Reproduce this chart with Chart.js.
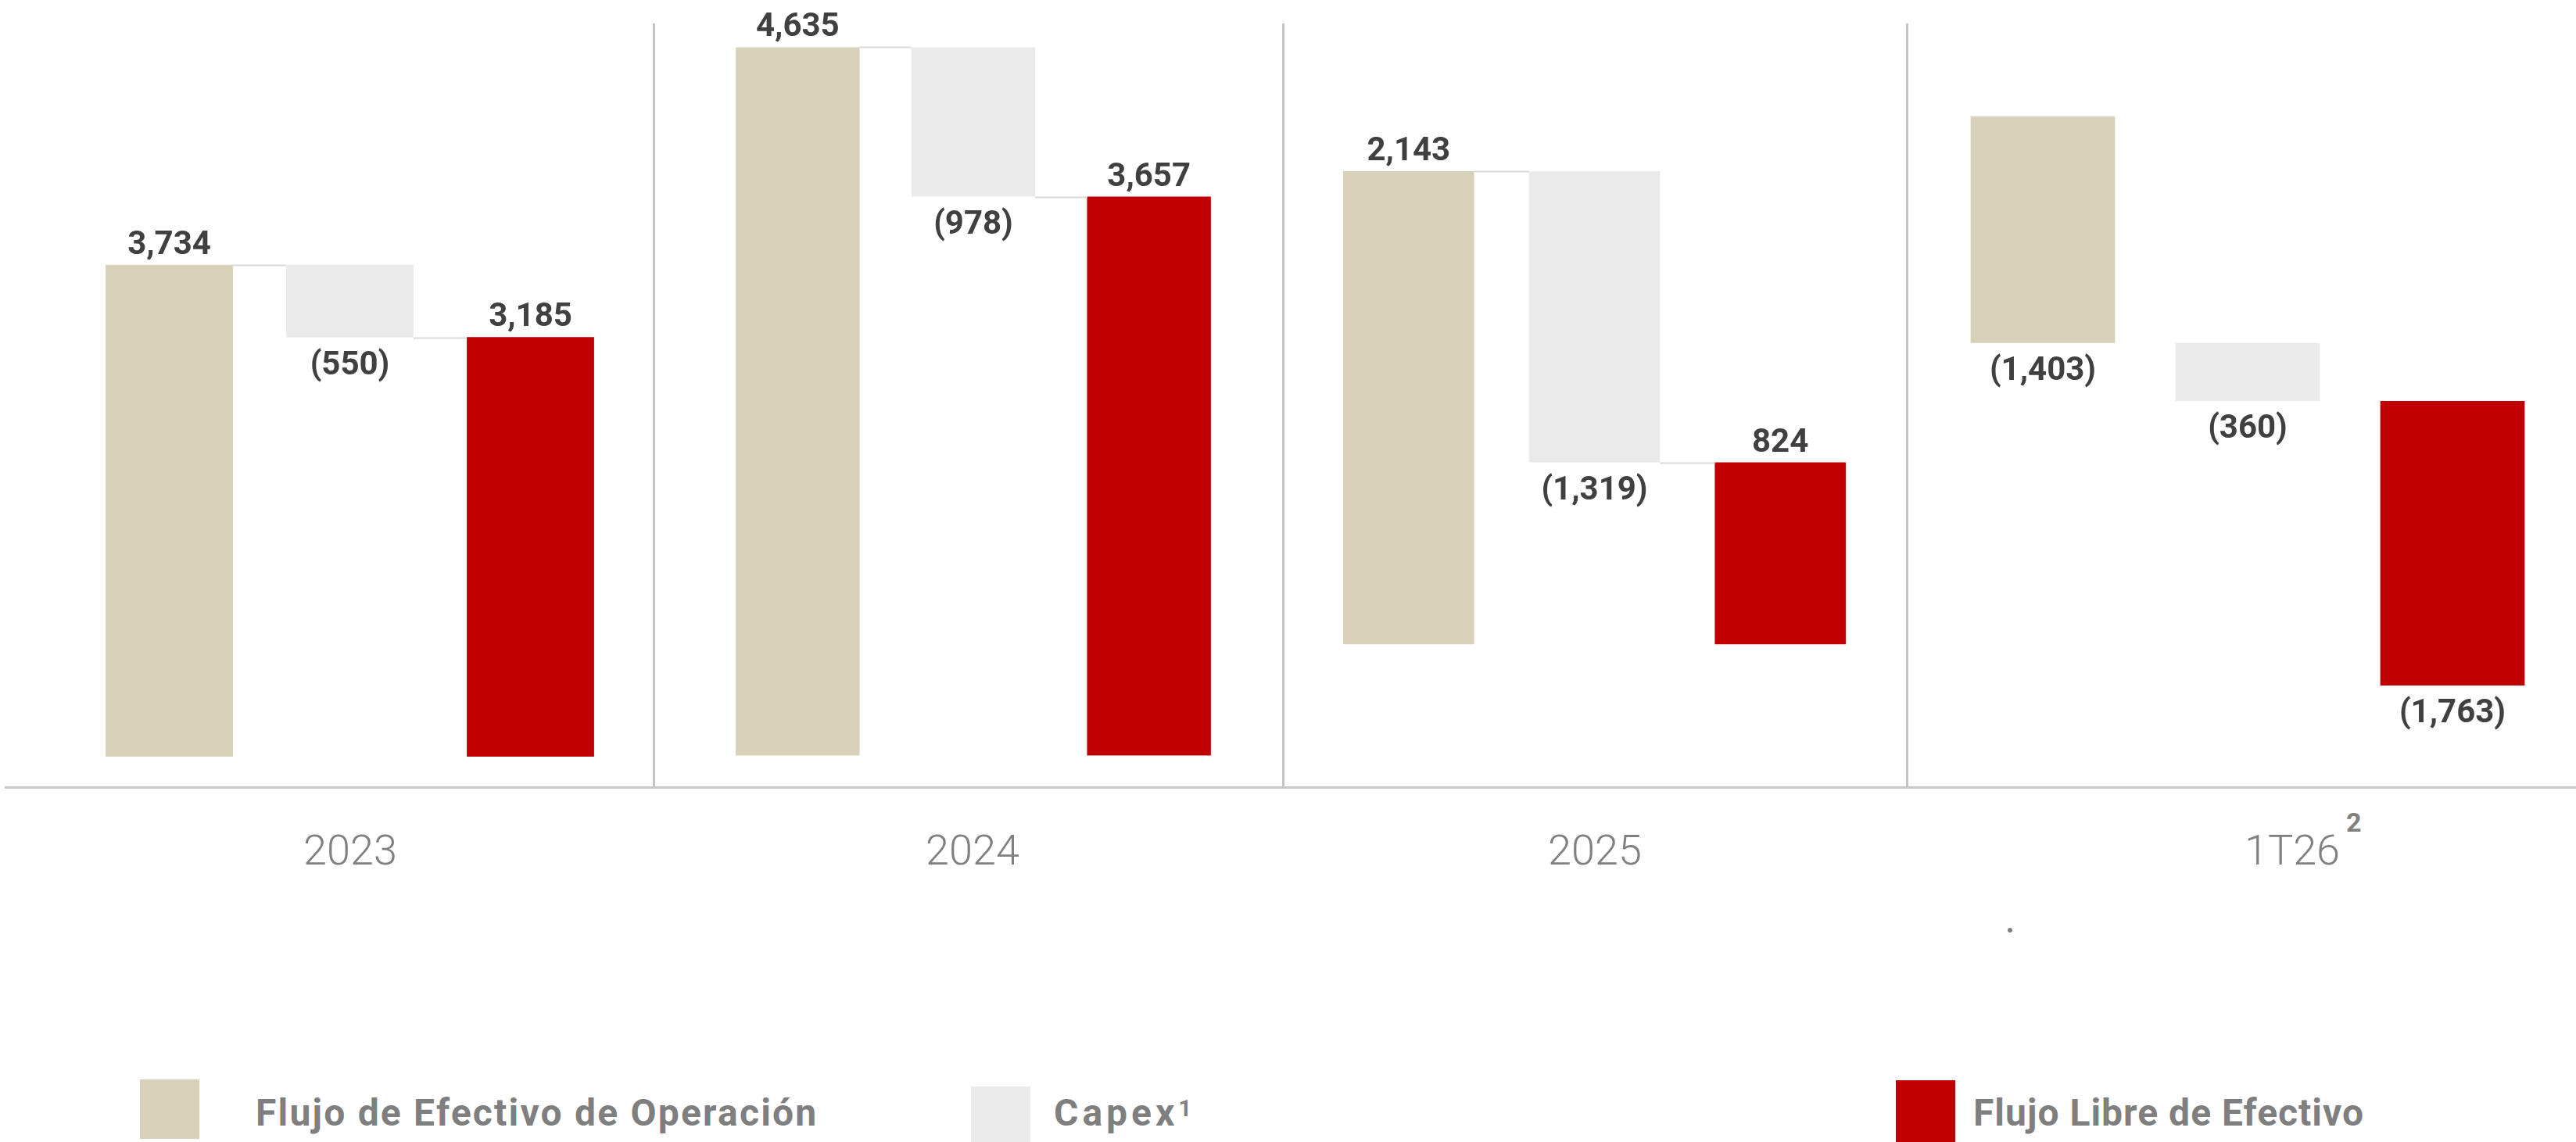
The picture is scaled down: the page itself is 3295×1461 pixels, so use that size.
<!DOCTYPE html>
<html lang="es">
<head>
<meta charset="utf-8">
<script src="https://cdn.jsdelivr.net/npm/chart.js@4/dist/chart.umd.min.js"></script>
<style>
  html, body { margin: 0; padding: 0; background: #fff; }
  #lienzo { position: relative; width: 3295px; height: 1461px; overflow: hidden; font-family: Roboto, sans-serif; }
  .panel { position: absolute; top: 0; height: 1008px; }
  .divisor { position: absolute; top: 30px; width: 3px; height: 978px; background: #c4c4c4; }
  #base { position: absolute; left: 6px; top: 1006px; width: 3289px; height: 3px; background: #c8c8c8; }
  .categoria { position: absolute; top: 1056px; line-height: 64px; font-size: 54px; font-weight: 300; color: #808080; white-space: nowrap; transform: translateX(-50%); }
  .categoria sup { position: absolute; left: calc(100% + 8px); top: -24px; font-size: 34px; font-weight: 700; line-height: 40px; }
  #punto { position: absolute; left: 2568px; top: 1187px; width: 6px; height: 6px; border-radius: 50%; background: #808080; }
  .caja { position: absolute; width: 76px; }
  .leyenda { position: absolute; top: 1394px; line-height: 60px; font-size: 48px; font-weight: 700; color: #7f7f7f; white-space: nowrap; }
  .leyenda sup { font-size: 29px; position: relative; top: -6px; vertical-align: top; letter-spacing: 0; }
</style>
</head>
<body>
<div id="lienzo">
  <div class="divisor" style="left:835px"></div>
  <div class="divisor" style="left:1640px"></div>
  <div class="divisor" style="left:2438px"></div>
  <div id="base"></div>
  <div id="punto"></div>

  <div class="caja" style="left:179px; top:1381px; height:76px; background:#d8d0b9"></div>
  <div class="leyenda" style="left:327px; letter-spacing:2.2px">Flujo de Efectivo de Operación</div>
  <div class="caja" style="left:1242px; top:1390px; height:71px; background:#eaeaea"></div>
  <div class="leyenda" style="left:1348px; letter-spacing:5px">Capex<sup>1</sup></div>
  <div class="caja" style="left:2425px; top:1382px; height:79px; background:#c00000"></div>
  <div class="leyenda" style="left:2524px; letter-spacing:1px">Flujo Libre de Efectivo</div>
</div>

<script>
// datos (millones)
const categorias = ['2023', '2024', '2025', '1T26'];
const notasCategoria = ['', '', '', '2'];
const flujoOperacion = [3734, 4635, 2143, -1403];
const capex = [-550, -978, -1319, -360];
const flujoLibre = [3185, 3657, 824, -1763];
// donde arranca la barra roja en la gráfica original
const inicioFlujoLibre = [0, 0, 0, -1763];

// cada periodo tiene su propia escala en el original
const escalaMin = [-237, -212, -650, -4160];
const escalaMax = [5745, 4944, 2918, 722];
const conectar = [true, true, true, false];

// posicion de cada panel en la pagina
const panelIzq = [101, 908, 1683, 2482];
const panelAncho = [693, 674, 713, 786];
const etiquetaX = [448, 1244, 2040, 2932];

const colores = ['#d8d0b9', '#eaeaea', '#c00000'];

const formato = v => {
    const s = Math.abs(v).toLocaleString('en-US');
    return v < 0 ? '(' + s + ')' : s;
};

const etiquetasPlugin = {
    id: 'etiquetas',
    afterDatasetsDraw(chart, args, opts) {
        const ctx = chart.ctx;
        const y = chart.scales.y;
        const barras = chart.getDatasetMeta(0).data;
        const rangos = chart.data.datasets[0].data;
        ctx.save();
        // lineas entre barras
        if (opts.conectar) {
            ctx.strokeStyle = '#d9d9d9';
            ctx.lineWidth = 2;
            for (let j = 0; j < 2; j++) {
                const a = barras[j], b = barras[j + 1];
                const py = Math.round(y.getPixelForValue(rangos[j][1])) + 0.5;
                ctx.beginPath();
                ctx.moveTo(a.x + a.width / 2, py);
                ctx.lineTo(b.x - b.width / 2, py);
                ctx.stroke();
            }
        }
        ctx.font = 'bold 42px Roboto';
        ctx.fillStyle = '#404040';
        ctx.textAlign = 'center';
        ctx.textBaseline = 'alphabetic';
        barras.forEach((bar, j) => {
            const [ini, fin] = rangos[j];
            const py = y.getPixelForValue(fin);
            const ty = fin >= ini ? py - 14 : py + 47;
            ctx.fillText(formato(opts.valores[j]), bar.x, ty);
        });
        ctx.restore();
    }
};

const lienzo = document.getElementById('lienzo');

categorias.forEach((cat, i) => {
    const caja = document.createElement('div');
    caja.className = 'panel';
    caja.style.left = panelIzq[i] + 'px';
    caja.style.width = panelAncho[i] + 'px';
    const canvas = document.createElement('canvas');
    caja.appendChild(canvas);
    lienzo.appendChild(caja);

    const op = flujoOperacion[i];
    const rangos = [
        [0, op],
        [op, op + capex[i]],
        [inicioFlujoLibre[i], inicioFlujoLibre[i] + flujoLibre[i]]
    ];

    new Chart(canvas.getContext('2d'), {
        type: 'bar',
        data: {
            labels: ['Flujo de Efectivo de Operación', 'Capex', 'Flujo Libre de Efectivo'],
            datasets: [{
                data: rangos,
                backgroundColor: colores,
                borderWidth: 0,
                categoryPercentage: 1,
                barPercentage: 0.705
            }]
        },
        options: {
            responsive: true,
            maintainAspectRatio: false,
            animation: false,
            layout: { padding: 0 },
            scales: {
                x: { display: false },
                y: { display: false, min: escalaMin[i], max: escalaMax[i] }
            },
            plugins: {
                legend: { display: false },
                tooltip: { enabled: false },
                etiquetas: { valores: [op, capex[i], flujoLibre[i]], conectar: conectar[i] }
            }
        },
        plugins: [etiquetasPlugin]
    });

    // etiqueta del periodo
    const et = document.createElement('div');
    et.className = 'categoria';
    et.style.left = etiquetaX[i] + 'px';
    et.textContent = cat;
    if (notasCategoria[i]) {
        const sup = document.createElement('sup');
        sup.textContent = notasCategoria[i];
        et.appendChild(sup);
    }
    lienzo.appendChild(et);
});
</script>
</body>
</html>
